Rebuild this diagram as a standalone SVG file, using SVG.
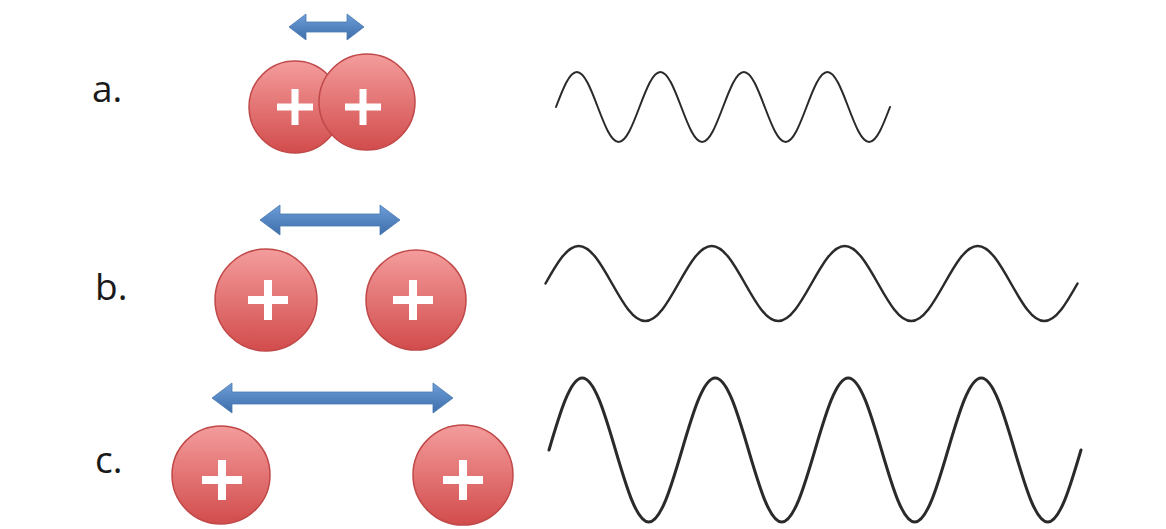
<svg xmlns="http://www.w3.org/2000/svg" width="1166" height="529" viewBox="0 0 1166 529">
<defs>
<linearGradient id="ball" x1="0" y1="0" x2="0" y2="1">
<stop offset="0" stop-color="#f49c9c"/>
<stop offset="1" stop-color="#d24c4c"/>
</linearGradient>
<linearGradient id="arr" x1="0" y1="0" x2="0" y2="1">
<stop offset="0" stop-color="#6e9ed8"/>
<stop offset="1" stop-color="#3e6eaa"/>
</linearGradient>
<style>
.lbl{font-family:"Open Sans","Liberation Sans",sans-serif;font-size:37px;fill:#1a1a1a}
.ball{fill:url(#ball);stroke:#c04848;stroke-width:1.5}
.plus{fill:#ffffff}
.arrow{fill:url(#arr);stroke:#4a78b0;stroke-width:0.8}
.wave{fill:none;stroke:#2a2a2a;stroke-linecap:round;stroke-linejoin:round}
</style>
</defs>
<rect width="1166" height="529" fill="#ffffff"/>

<g id="label-a"><text class="lbl" x="92" y="102">a.</text></g>
<g id="label-b"><text class="lbl" x="95" y="300">b.</text></g>
<g id="label-c"><text class="lbl" x="95" y="473">c.</text></g>

<g id="row-a-particles">
<circle class="ball" cx="295" cy="107" r="46"/>
<path class="plus" d="M291.5,89h7v14.5h14.5v7h-14.5v14.5h-7v-14.5h-14.5v-7h14.5z"/>
<circle class="ball" cx="367" cy="102" r="48"/>
<path class="plus" d="M359.5,89h7v14.5h14.5v7h-14.5v14.5h-7v-14.5h-14.5v-7h14.5z"/>
</g>
<g id="row-b-particles">
<circle class="ball" cx="266" cy="300" r="51"/>
<path class="plus" d="M264,280h8v16h16v8h-16v16h-8v-16h-16v-8h16z"/>
<circle class="ball" cx="416" cy="300" r="50"/>
<path class="plus" d="M409,280h8v16h16v8h-16v16h-8v-16h-16v-8h16z"/>
</g>
<g id="row-c-particles">
<circle class="ball" cx="221" cy="475" r="49"/>
<path class="plus" d="M218,460h8v16h16v8h-16v16h-8v-16h-16v-8h16z"/>
<circle class="ball" cx="463" cy="475" r="50"/>
<path class="plus" d="M459,460h8v16h16v8h-16v16h-8v-16h-16v-8h16z"/>
</g>

<g id="connectors">
<polygon class="arrow" points="289,27 306,14 306,22 347,22 347,14 364,27 347,40 347,32 306,32 306,40"/>
<polygon class="arrow" points="260,220 280,205 280,214 380,214 380,205 400,220 380,235 380,226 280,226 280,235"/>
<polygon class="arrow" points="212,398 232,383 232,392 433,392 433,383 453,398 433,413 433,404 232,404 232,413"/>
</g>

<g id="wave-a">
<path class="wave" stroke-width="2" d="M556,107 c6.816,-17.948 13.337,-35 20.875,-35 s14.059,17.052 20.875,35 s13.337,35 20.875,35 s14.059,-17.052 20.875,-35 s13.337,-35 20.875,-35 s14.059,17.052 20.875,35 s13.337,35 20.875,35 s14.059,-17.052 20.875,-35 s13.337,-35 20.875,-35 s14.059,17.052 20.875,35 s13.337,35 20.875,35 s14.059,-17.052 20.875,-35 s13.337,-35 20.875,-35 s14.059,17.052 20.875,35 s13.337,35 20.875,35 s14.059,-17.052 20.875,-35"/>
</g>
<g id="wave-b">
<path class="wave" stroke-width="2.5" d="M545.5,283.5 c10.856,-19.23 21.243,-37.5 33.25,-37.5 s22.394,18.27 33.25,37.5 s21.243,37.5 33.25,37.5 s22.394,-18.27 33.25,-37.5 s21.243,-37.5 33.25,-37.5 s22.394,18.27 33.25,37.5 s21.243,37.5 33.25,37.5 s22.394,-18.27 33.25,-37.5 s21.243,-37.5 33.25,-37.5 s22.394,18.27 33.25,37.5 s21.243,37.5 33.25,37.5 s22.394,-18.27 33.25,-37.5 s21.243,-37.5 33.25,-37.5 s22.394,18.27 33.25,37.5 s21.243,37.5 33.25,37.5 s22.394,-18.27 33.25,-37.5"/>
</g>
<g id="wave-c">
<path class="wave" stroke-width="3" d="M549,450 c10.856,-36.92 21.243,-72 33.25,-72 s22.394,35.08 33.25,72 s21.243,72 33.25,72 s22.394,-35.08 33.25,-72 s21.243,-72 33.25,-72 s22.394,35.08 33.25,72 s21.243,72 33.25,72 s22.394,-35.08 33.25,-72 s21.243,-72 33.25,-72 s22.394,35.08 33.25,72 s21.243,72 33.25,72 s22.394,-35.08 33.25,-72 s21.243,-72 33.25,-72 s22.394,35.08 33.25,72 s21.243,72 33.25,72 s22.394,-35.08 33.25,-72"/>
</g>
</svg>
